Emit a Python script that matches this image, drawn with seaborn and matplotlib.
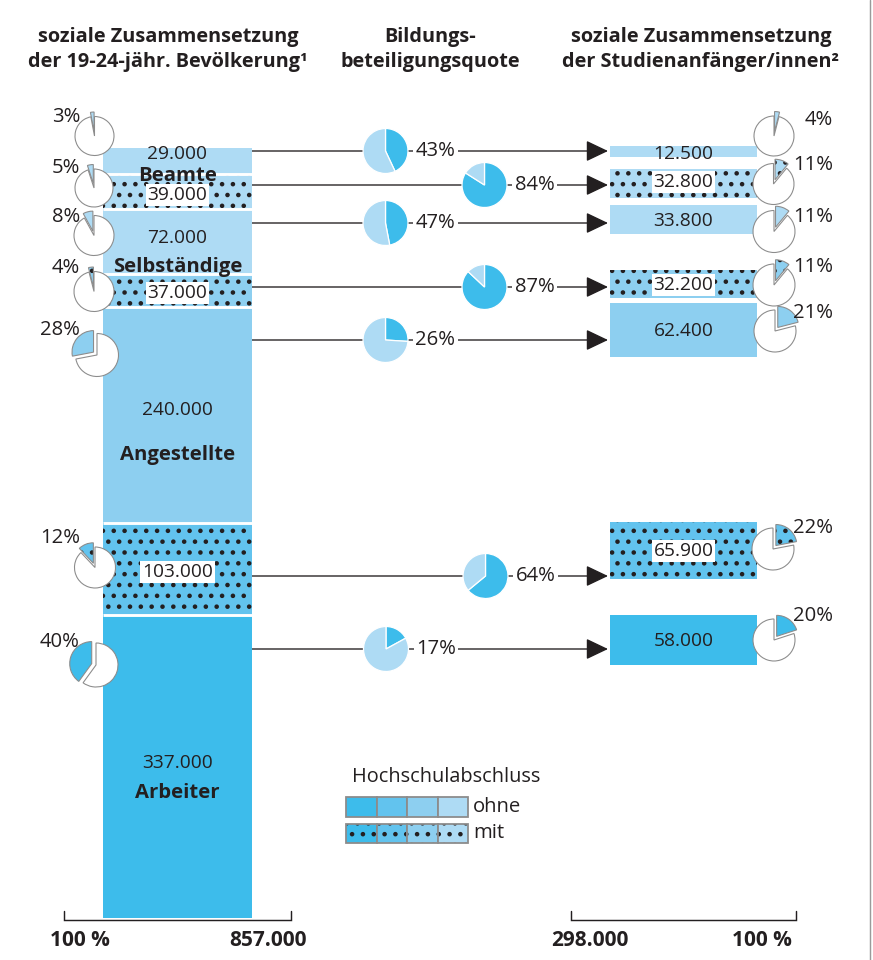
import matplotlib
matplotlib.use("Agg")
import matplotlib.pyplot as plt
import matplotlib.colors as mcolors
import seaborn as sns

# ---------------- data ----------------
row_group = ["Beamte", "Beamte", "Selbständige", "Selbständige",
             "Angestellte", "Angestellte", "Arbeiter"]
row_degree = ["ohne", "mit", "ohne", "mit", "ohne", "mit", "ohne"]
population = [29000, 39000, 72000, 37000, 240000, 103000, 337000]
population_share = [3, 5, 8, 4, 28, 12, 40]
participation = [43, 84, 47, 87, 26, 64, 17]
entrants = [12500, 32800, 33800, 32200, 62400, 65900, 58000]
entrants_share = [4, 11, 11, 11, 21, 22, 20]
group_labels = ["Beamte", "Selbständige", "Angestellte", "Arbeiter"]
population_total = "857.000"
entrants_total = "298.000"
legend_title = "Hochschulabschluss"
legend_labels = ["ohne", "mit"]
title_left = ["soziale Zusammensetzung", "der 19-24-jähr. Bevölkerung¹"]
title_mid = ["Bildungs-", "beteiligungsquote"]
title_right = ["soziale Zusammensetzung", "der Studienanfänger/innen²"]

# ---------------- style ----------------
sns.set_theme(style="white")
plt.rcParams["font.family"] = ["Open Sans", "DejaVu Sans"]
plt.rcParams["hatch.linewidth"] = 1.3

TXT = "#231f20"
GRAY = "#8c8c8c"
DARK, MID2, MID3, LIGHT = "#3dbceb", "#62c3ee", "#8dcff0", "#aedbf4"
row_colors = [LIGHT, LIGHT, LIGHT, MID3, MID3, MID2, DARK]
legend_colors = [DARK, MID2, MID3, LIGHT]

W, H, DPI = 873, 960, 130
fig = plt.figure(figsize=(W / DPI, H / DPI), dpi=DPI)
ax = fig.add_axes([0, 0, 1, 1])


def Y(p):
    return H - p


def fmt(v):
    return f"{v:,}".replace(",", ".")


def dark_hatch(patch):
    patch._hatch_color = mcolors.to_rgba(TXT)


FS = 10.6

# layout
LX0, LX1, LTOP = 103, 252, 148
lscale = 770 / sum(population)
RX0, RX1 = 610, 757
rscale = 0.87 / 1000
right_tops = [146, 169, 205, 270, 303, 522, 615]
line_y = [151, 185, 223, 287, 340, 576, 649]
mid_x = [385.5, 484.5, 385.5, 484.5, 385.5, 485.5, 386]
left_num_y = [154, 195, 238, 293, 410, 572, 763]
group_y = [176, 267, 455, 793]
right_num_y = [154, 182, 221, 285, 331, 551, 641]
lpie = [(94.5, 136, 19.5), (94, 188, 19), (94, 235.5, 20), (94, 291.5, 20),
        (97, 355, 21.5), (95, 567.5, 20.5), (96, 665, 22)]
lpie_lab_y = [117, 168, 217, 268, 330, 538, 642]
rpie = [(774, 136, 20), (773.5, 184, 20.5), (774, 231.5, 21), (774, 285, 21),
        (775, 331, 21), (773, 549, 21), (774, 640, 21)]
rpie_lab_y = [120, 165, 217, 267, 313, 528, 616]

# ---------------- left stacked bar ----------------
cum = 0
bounds = []
for i, v in enumerate(population):
    hatch = ".." if row_degree[i] == "mit" else None
    ax.bar((LX0 + LX1) / 2, v * lscale, width=LX1 - LX0,
           bottom=Y(LTOP) - (cum + v) * lscale, color=row_colors[i],
           edgecolor=TXT, linewidth=0, hatch=hatch, zorder=2)
    cum += v
    bounds.append(Y(LTOP) - cum * lscale)
ax.hlines(bounds[:-1], LX0, LX1, color="white", lw=1.6, zorder=3)

for i, v in enumerate(population):
    bbox = (dict(boxstyle="square,pad=0.1", fc="white", ec="none")
            if row_degree[i] == "mit" else None)
    ax.text((LX0 + LX1) / 2, Y(left_num_y[i]), fmt(v), ha="center",
            va="center", fontsize=FS, color=TXT, bbox=bbox, zorder=5)
for g, gy in zip(group_labels, group_y):
    ax.text((LX0 + LX1) / 2, Y(gy), g, ha="center", va="center",
            fontsize=FS + 0.6, fontweight="bold", color=TXT, zorder=6)

# ---------------- right bars ----------------
for i, v in enumerate(entrants):
    hatch = ".." if row_degree[i] == "mit" else None
    ax.bar((RX0 + RX1) / 2, v * rscale, width=RX1 - RX0,
           bottom=Y(right_tops[i]) - v * rscale, color=row_colors[i],
           edgecolor=TXT, linewidth=0, hatch=hatch, zorder=2)
    bbox = (dict(boxstyle="square,pad=0.1", fc="white", ec="none")
            if row_degree[i] == "mit" else None)
    ax.text((RX0 + RX1) / 2, Y(right_num_y[i]), fmt(v), ha="center",
            va="center", fontsize=FS, color=TXT, bbox=bbox, zorder=5)

# ---------------- connecting arrows + middle pies ----------------
for i, q in enumerate(participation):
    y = Y(line_y[i])
    ax.annotate("", xy=(608, y), xytext=(LX1, y),
                arrowprops=dict(arrowstyle="-|>,head_length=1.05,head_width=0.5",
                                color=TXT, lw=0.75, shrinkA=0, shrinkB=0,
                                mutation_scale=10), zorder=1)
    wedges, _ = ax.pie([q, 100 - q], colors=[DARK, LIGHT], startangle=90,
                       counterclock=False, center=(mid_x[i], y), radius=22.5,
                       wedgeprops=dict(edgecolor="white", linewidth=0.7),
                       frame=True)
    for w in wedges:
        w.set_zorder(4)
    ax.text(mid_x[i] + 30, y, f"{q}%", ha="left", va="center", fontsize=FS + 0.6,
            color=TXT, bbox=dict(boxstyle="square,pad=0.12", fc="white", ec="none"),
            zorder=5)

# ---------------- left small pies ----------------
for i, p in enumerate(population_share):
    cx, cy, r = lpie[i]
    wedges, _ = ax.pie([p, 100 - p], colors=[row_colors[i], "white"],
                       startangle=90, counterclock=True, center=(cx, Y(cy)),
                       radius=r, explode=[4.5, 0],
                       wedgeprops=dict(edgecolor=GRAY, linewidth=0.6), frame=True)
    if row_degree[i] == "mit":
        wedges[0].set_hatch("..")
        dark_hatch(wedges[0])
    for w in wedges:
        w.set_zorder(4)
    ax.text(80, Y(lpie_lab_y[i]), f"{p}%", ha="right", va="center",
            fontsize=FS + 0.6, color=TXT, zorder=5)

# ---------------- right small pies ----------------
for i, p in enumerate(entrants_share):
    cx, cy, r = rpie[i]
    wedges, _ = ax.pie([p, 100 - p], colors=[row_colors[i], "white"],
                       startangle=90, counterclock=False, center=(cx, Y(cy)),
                       radius=r, explode=[4.5, 0],
                       wedgeprops=dict(edgecolor=GRAY, linewidth=0.6), frame=True)
    if row_degree[i] == "mit":
        wedges[0].set_hatch("..")
        dark_hatch(wedges[0])
    for w in wedges:
        w.set_zorder(4)
    ax.text(833, Y(rpie_lab_y[i]), f"{p}%", ha="right", va="center",
            fontsize=FS + 0.6, color=TXT, zorder=5)

# ---------------- titles ----------------
for lines, xc in [(title_left, 168), (title_mid, 430), (title_right, 701)]:
    for k, t in enumerate(lines):
        ax.text(xc, Y(37 + 25 * k), t, ha="center", va="center",
                fontsize=FS + 0.4, fontweight="bold", color=TXT)

# ---------------- bottom scale brackets ----------------
for xa, xb in [(64, 291), (571, 796)]:
    ax.plot([xa, xa, xb, xb], [Y(911), Y(920), Y(920), Y(911)], color=TXT,
            lw=0.8, solid_joinstyle="miter")
ax.text(50, Y(940), "100 %", ha="left", va="center", fontsize=FS + 1,
        fontweight="bold", color=TXT)
ax.text(307, Y(940), population_total, ha="right", va="center",
        fontsize=FS + 1, fontweight="bold", color=TXT)
ax.text(551, Y(940), entrants_total, ha="left", va="center", fontsize=FS + 1,
        fontweight="bold", color=TXT)
ax.text(792, Y(940), "100 %", ha="right", va="center", fontsize=FS + 1,
        fontweight="bold", color=TXT)

# ---------------- legend ----------------
ax.text(352, Y(777), legend_title, ha="left", va="center", fontsize=FS + 0.4,
        color=TXT)
sw = 30.5
for k, lab in enumerate(legend_labels):
    top = 797 + 26.5 * k
    for j, c in enumerate(legend_colors):
        bars = ax.bar(346 + sw * j + sw / 2, 19.5, width=sw, bottom=Y(top) - 19.5,
                      color=c, edgecolor=GRAY, linewidth=1.0,
                      hatch=".." if lab == "mit" else None, zorder=2)
        if lab == "mit":
            dark_hatch(bars.patches[0])
    ax.text(473, Y(top + 9.5), lab, ha="left", va="center", fontsize=FS + 0.6,
            color=TXT)

# frame edge on the right
ax.plot([869.5, 869.5], [0, H], color="#9a9a9a", lw=0.8)

ax.set_xlim(0, W)
ax.set_ylim(0, H)
ax.set_aspect("auto")
ax.axis("off")
fig.savefig("out.png", dpi=DPI, facecolor="white")
